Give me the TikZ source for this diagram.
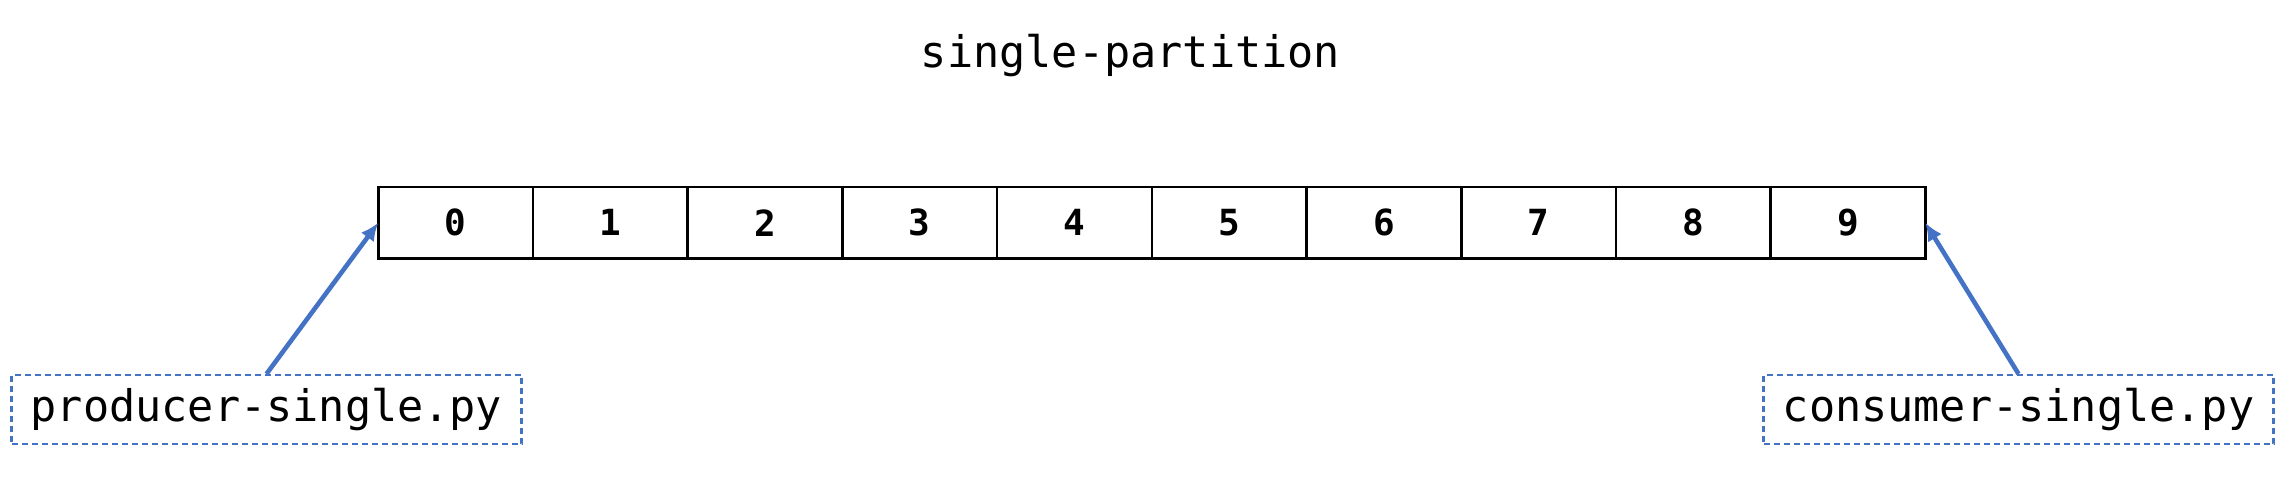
\documentclass[tikz,border=0pt]{standalone}
\usepackage{fontspec}
\setmonofont{DejaVu Sans Mono}
\usetikzlibrary{arrows.meta}
\definecolor{lblue}{HTML}{4472C4}
\tikzset{
  cell/.style={draw=black, line width=2.6pt, minimum width=154.7pt, minimum height=71.5pt, inner sep=0pt, outer sep=0pt, font=\ttfamily\bfseries\fontsize{36}{40}\selectfont},
  script/.style={draw=lblue, dash pattern=on 6pt off 4pt, line width=2.2pt, minimum width=510pt, minimum height=69pt, inner sep=0pt, font=\ttfamily\fontsize{43.5}{50}\selectfont},
  ttl/.style={font=\ttfamily\fontsize{43.5}{50}\selectfont},
  arr/.style={draw=lblue, line width=4.6pt, -{Latex[length=18pt,width=16pt]}, shorten >=0pt}
}
\begin{document}
\begin{tikzpicture}[x=1pt,y=-1pt]
\useasboundingbox (0,0) rectangle (2290,492);
\node[ttl] (title) at (1130.5,55.5) {single-partition};
\foreach \i in {0,...,9} {
  \node[cell] (c\i) at ({378.3+77.35+154.7*\i},222.7) {\i};
}
\node[script] (prod) at (266.5,409.5) {producer-single.py};
\node[script] (cons) at (2018.5,409.5) {consumer-single.py};
\draw[arr] (prod.north) -- (c0.west);
\draw[arr] (cons.north) -- (c9.east);
\end{tikzpicture}
\end{document}
